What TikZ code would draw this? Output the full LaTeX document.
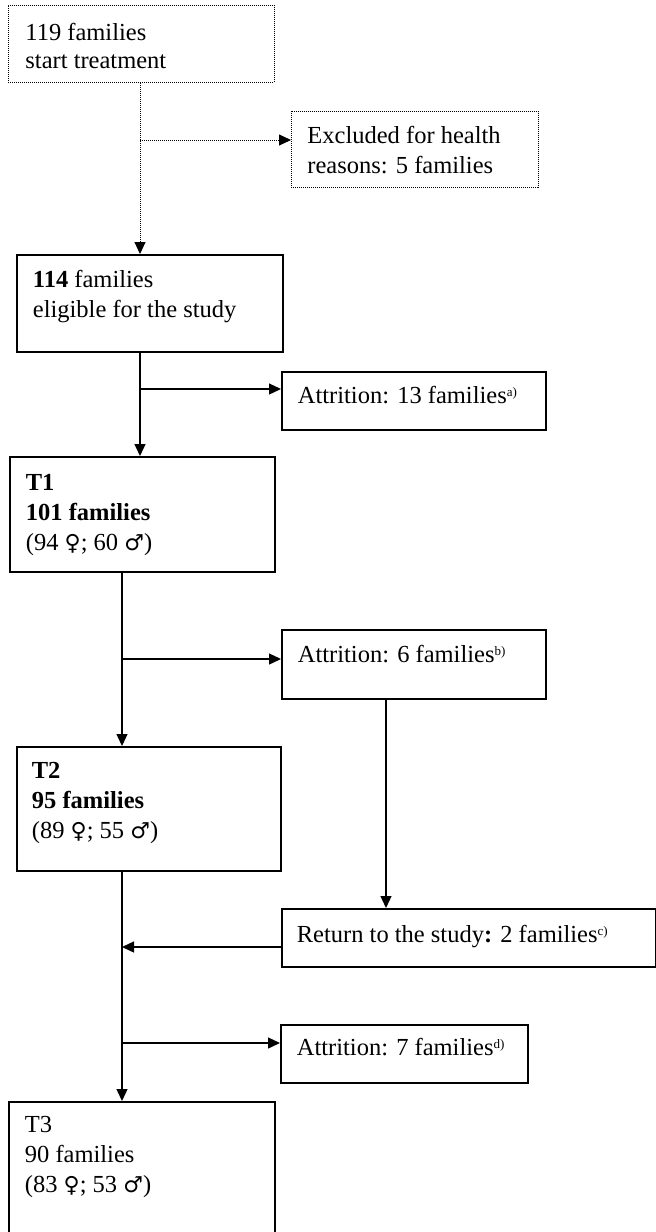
\documentclass[tikz,border=0pt]{standalone}
\usepackage{fontspec}
\setmainfont{Liberation Serif}
\newfontfamily\gsym{DejaVu Sans}
\usepackage{tikz}
\usetikzlibrary{arrows.meta, calc}

% box body: width, height, first baseline, left inset, text
\newcommand{\boxtext}[5]{%
  \parbox[b][#2pt][t]{#1pt}{\raggedright\leftskip=#4pt\relax
    \vspace*{\dimexpr #3pt-\ht\strutbox\relax}\noindent\strut #5}}
\newcommand{\fnmark}[1]{\raisebox{7pt}{\fontsize{13}{13}\selectfont #1}}
\newcommand{\fem}{{\gsym\fontsize{22}{22}\selectfont ♀}}
\newcommand{\mal}{{\gsym\fontsize{22}{22}\selectfont ♂}}

\begin{document}
\begin{tikzpicture}[
  x=1pt, y=-1pt,
  >={Triangle[length=12pt, width=11pt]},
  font=\fontsize{24.5}{30}\selectfont,
  box/.style={draw, line width=1.8pt, inner sep=0pt, anchor=north west},
  dotbox/.style={box, line width=0.9pt, dash pattern=on 1pt off 1pt},
  conn/.style={line width=1.3pt},
  dotconn/.style={line width=0.9pt, dash pattern=on 1pt off 1pt}
]
\useasboundingbox (0,0) rectangle (656,1232);

\node[dotbox] (start) at (8,5) {\fontsize{24.5}{28}\selectfont
  \boxtext{266}{77}{35}{17}{119 families\\ start treatment}};
\node[dotbox] (excl) at (291,111) {%
  \boxtext{247}{76}{32}{16}{Excluded for health\\ reasons: 5 families}};

\node[box] (elig) at (16,254) {%
  \boxtext{266}{97}{33}{16}{\textbf{114} families\\ eligible for the study}};
\node[box] (attrA) at (281,371) {%
  \boxtext{264}{58}{32}{16}{Attrition: 13 families\fnmark{a)}}};

\node[box] (t1) at (9,456) {%
  \boxtext{265}{115}{34}{16}{\textbf{T1}\\ \textbf{101 families}\\ (94 \fem; 60 \mal)}};
\node[box] (attrB) at (281,629) {%
  \boxtext{264}{69}{33}{16}{Attrition: 6 families\fnmark{b)}}};

\node[box] (t2) at (16,746) {%
  \boxtext{264}{124}{32}{15}{\textbf{T2}\\ \textbf{95 families}\\ (89 \fem; 55 \mal)}};
\node[box] (ret) at (281,908) {%
  \boxtext{374}{58}{34}{15}{Return to the study\textbf{:} 2 families\fnmark{c)}}};
\node[box] (attrD) at (280,1024) {%
  \boxtext{247}{58}{31}{16}{Attrition: 7 families\fnmark{d)}}};

\node[box] (t3) at (8,1101) {%
  \boxtext{266}{140}{31}{16}{T3\\ 90 families\\ (83 \fem; 53 \mal)}};

% spines and branch points
\coordinate (xa) at (140,0);
\coordinate (xb) at (122,0);
\coordinate (xc) at (386,0);
\coordinate (br0) at (140,140);
\coordinate (br1) at (140,389);
\coordinate (br2) at (122,659);
\coordinate (br3) at (122,947);
\coordinate (br4) at (122,1043);

\draw[dotconn, ->] (start.south -| xa) -- (elig.north -| xa);
\draw[dotconn, ->] (br0) -- (excl.west |- br0);
\draw[conn, ->] (elig.south -| xa) -- (t1.north -| xa);
\draw[conn, ->] (br1) -- (attrA.west |- br1);
\draw[conn, ->] (t1.south -| xb) -- (t2.north -| xb);
\draw[conn, ->] (br2) -- (attrB.west |- br2);
\draw[conn, ->] (attrB.south -| xc) -- (ret.north -| xc);
\draw[conn, ->] (ret.west |- br3) -- (br3);
\draw[conn, ->] (t2.south -| xb) -- (t3.north -| xb);
\draw[conn, ->] (br4) -- (attrD.west |- br4);

\end{tikzpicture}
\end{document}
